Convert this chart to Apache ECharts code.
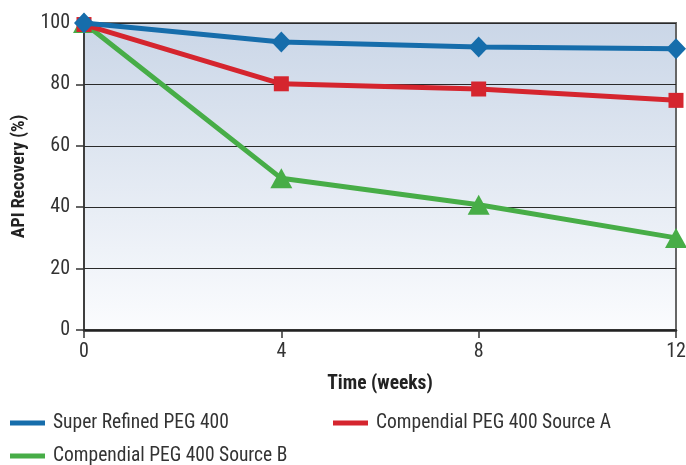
<!DOCTYPE html>
<html>
<head>
<meta charset="utf-8">
<script src="https://cdn.jsdelivr.net/npm/echarts@6/dist/echarts.min.js"></script>
<style>
  html, body { margin: 0; padding: 0; background: #ffffff; }
  #chart { width: 686px; height: 465px; }
</style>
</head>
<body>
<div id="chart"></div>
<script>
// Stability study: API recovery over storage time
const weeks = [0, 4, 8, 12];
const superRefined = [100, 93.8, 92.2, 91.6];
const sourceA = [99.5, 80.2, 78.5, 74.8];
const sourceB = [100, 49.4, 40.8, 30.0];
const yTicks = [0, 20, 40, 60, 80, 100];

const FONT = '"Liberation Sans Narrow", "Roboto Condensed", "Liberation Sans", Arial, sans-serif';
const BLUE = '#166dab';
const RED = '#d5252e';
const GREEN = '#47ad47';

const pairs = (vals) => weeks.map((w, i) => [w, vals[i]]);

const chart = echarts.init(document.getElementById('chart'), null, { renderer: 'canvas' });

const legendBase = {
  icon: 'rect',
  itemWidth: 35,
  itemHeight: 5,
  textStyle: { fontFamily: FONT, fontSize: 19.5, color: '#333', padding: [0, 0, 0, 3] },
  padding: 0,
  itemGap: 10
};

chart.setOption({
  animation: false,
  grid: {
    left: 84, right: 10, top: 23, bottom: 135,
    outerBoundsMode: 'none',
    containLabel: false,
    show: true,
    borderColor: '#666',
    borderWidth: 2,
    backgroundColor: {
      type: 'linear', x: 0, y: 0, x2: 0, y2: 1,
      colorStops: [
        { offset: 0, color: '#cad6e7' },
        { offset: 1, color: '#fbfcfe' }
      ]
    }
  },
  legend: [
    Object.assign({}, legendBase, { data: ['Super Refined PEG 400'], left: 10, top: 413 }),
    Object.assign({}, legendBase, { data: ['Compendial PEG 400 Source A'], left: 333, top: 413 }),
    Object.assign({}, legendBase, { data: ['Compendial PEG 400 Source B'], left: 10, top: 446 })
  ],
  xAxis: {
    type: 'value',
    min: 0, max: 12, interval: 4,
    name: 'Time (weeks)',
    nameLocation: 'middle',
    nameGap: 44,
    nameTextStyle: { fontFamily: FONT, fontSize: 19.5, fontWeight: 'bold', color: '#222' },
    axisLine: { show: true, lineStyle: { color: '#222', width: 2.5 } },
    axisTick: { show: true, length: 8, lineStyle: { color: '#333', width: 1.5 } },
    axisLabel: { fontFamily: FONT, fontSize: 20, color: '#333', margin: 12 },
    splitLine: { show: false }
  },
  yAxis: {
    type: 'value',
    min: 0, max: 100, interval: 20,
    name: 'API Recovery (%)',
    nameLocation: 'middle',
    nameGap: 56,
    nameRotate: 90,
    nameTextStyle: { fontFamily: FONT, fontSize: 18, fontWeight: 'bold', color: '#222' },
    axisLine: { show: true, lineStyle: { color: '#333', width: 1.5 } },
    axisTick: { show: true, length: 8, inside: false, lineStyle: { color: '#333', width: 1.5 } },
    axisLabel: {
      fontFamily: FONT, fontSize: 20, color: '#333', margin: 14,
      formatter: (v) => (yTicks.includes(v) ? String(v) : '')
    },
    splitLine: { show: true, lineStyle: { color: '#2a2a2a', width: 1 } }
  },
  series: [
    {
      name: 'Compendial PEG 400 Source B',
      type: 'line',
      data: pairs(sourceB),
      color: GREEN,
      lineStyle: { width: 5, color: GREEN },
      symbol: 'triangle',
      symbolSize: [22, 20],
      itemStyle: { color: GREEN },
      z: 2
    },
    {
      name: 'Compendial PEG 400 Source A',
      type: 'line',
      data: pairs(sourceA),
      color: RED,
      lineStyle: { width: 5, color: RED },
      symbol: 'rect',
      symbolSize: 15,
      itemStyle: { color: RED },
      z: 3
    },
    {
      name: 'Super Refined PEG 400',
      type: 'line',
      data: pairs(superRefined),
      color: BLUE,
      lineStyle: { width: 5, color: BLUE },
      symbol: 'diamond',
      symbolSize: [20, 21],
      itemStyle: { color: BLUE },
      z: 4
    }
  ]
});
</script>
</body>
</html>
